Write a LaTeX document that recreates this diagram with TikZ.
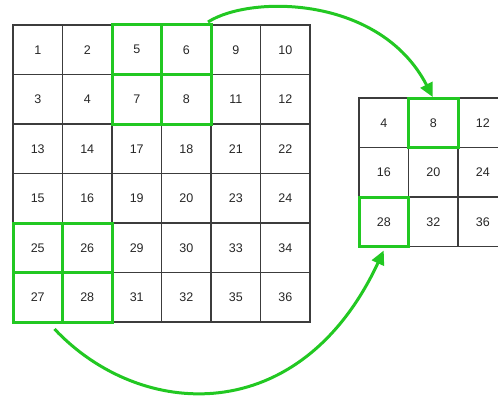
\documentclass[tikz,border=0pt]{standalone}
\usepackage{fontspec}
\setmainfont{Liberation Sans}
\usetikzlibrary{arrows.meta}
\definecolor{grn}{RGB}{34,200,34}
\definecolor{gridc}{RGB}{60,60,60}
\begin{document}
\begin{tikzpicture}[x=1pt,y=-1pt,
  cell/.style={draw=gridc,line width=1.2pt,minimum size=49.5pt,inner sep=0pt,outer sep=0pt,
    font=\fontsize{12.5}{13}\selectfont,text=black!85},
  hl/.style={draw=grn,line width=3pt},
  garrow/.style={draw=grn,line width=3pt,-{Triangle[length=14pt,width=13pt]}}]
\useasboundingbox (0,0) rectangle (498,396);
\clip (0,0) rectangle (498,396);
\foreach \v [count=\i from 0] in {1,2,5,6,9,10,3,4,7,8,11,12,13,14,17,18,21,22,15,16,19,20,23,24,25,26,29,30,33,34,27,28,31,32,35,36}{
  \pgfmathtruncatemacro\c{mod(\i,6)}
  \pgfmathtruncatemacro\r{div(\i,6)}
  \node[cell] (L\v) at ({13+24.75+49.5*\c},{25+24.75+49.5*\r}) {\v};
}
\foreach \v [count=\i from 0] in {4,8,12,16,20,24,28,32,36}{
  \pgfmathtruncatemacro\c{mod(\i,3)}
  \pgfmathtruncatemacro\r{div(\i,3)}
  \node[cell] (R\v) at ({359+24.75+49.5*\c},{98+24.75+49.5*\r}) {\v};
}
\foreach \v in {5,6,7,8,25,26,27,28}{
  \draw[hl] (L\v.north west) rectangle (L\v.south east);
}
\foreach \v in {8,28}{
  \draw[hl] (R\v.north west) rectangle (R\v.south east);
}
\draw[garrow,shorten >=1pt] ([shift={(-3,-3)}]L6.north east) .. controls (250,-5) and (380,-5) .. (R8.north);
\draw[garrow] ([shift={(-8,7)}]L27.south east) .. controls (140,420) and (300,430) .. ([shift={(0,4)}]R28.south);
\end{tikzpicture}
\end{document}
